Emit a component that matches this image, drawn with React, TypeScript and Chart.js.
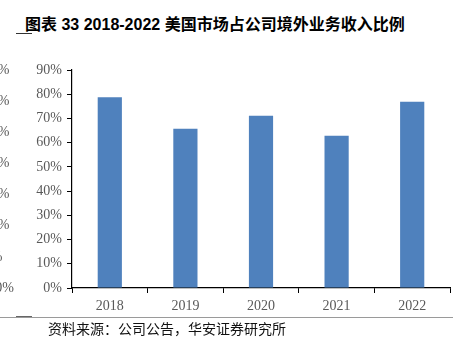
import React, { useEffect, useRef } from 'react';
import { Chart, registerables } from 'chart.js';

Chart.register(...registerables);

const categories: string[] = ['2018', '2019', '2020', '2021', '2022'];
const usShareOfOverseasRevenue: number[] = [78.8, 65.7, 71.1, 62.9, 76.9];
const yMin = 0;
const yMax = 90;
const yStep = 10;
const leftEdgeLabels: string[] = ['70%', '60%', '50%', '40%', '30%', '20%', '10%', '0%'];
const titleText = '图表 33 2018-2022 美国市场占公司境外业务收入比例';
const sourceText = '资料来源：公司公告，华安证券研究所';

const W = 453;
const H = 341;
// right edges of the clipped labels of the neighbouring chart (style only)
const leftEdgeRightX = [9.5, 9.5, 9.5, 9.5, 9.5, 9.5, 2.5, 14];

const leftEdgePlugin = {
  id: 'leftEdgeLabels',
  afterDraw(chart: any) {
    const { ctx, chartArea } = chart;
    const n = leftEdgeLabels.length;
    ctx.save();
    ctx.font = '14px "Liberation Serif", serif';
    ctx.fillStyle = '#595959';
    ctx.textAlign = 'right';
    ctx.textBaseline = 'middle';
    leftEdgeLabels.forEach((t, i) => {
      const y = chartArea.top + (i * (chartArea.bottom - chartArea.top)) / (n - 1);
      ctx.fillText(t, leftEdgeRightX[i], y);
    });
    ctx.restore();
  },
};

export default function App() {
  const ref = useRef<HTMLCanvasElement | null>(null);

  useEffect(() => {
    if (!ref.current) return;
    const tickFont = { family: '"Liberation Serif", "Times New Roman", serif', size: 14 };
    const chart = new Chart(ref.current, {
      type: 'bar',
      data: {
        labels: categories,
        datasets: [
          {
            data: usShareOfOverseasRevenue,
            backgroundColor: '#4F81BD',
            borderWidth: 0,
            categoryPercentage: 1,
            barPercentage: 0.32,
          },
        ],
      },
      options: {
        responsive: false,
        animation: false,
        devicePixelRatio: 1,
        layout: { padding: { top: 70, right: 3, bottom: 23, left: 0 } },
        plugins: { legend: { display: false }, tooltip: { enabled: false } },
        scales: {
          x: {
            type: 'category',
            grid: { offset: true, drawOnChartArea: false, drawTicks: true, tickLength: 5, color: '#000' },
            border: { display: true, color: '#000', width: 1.2 },
            ticks: { font: tickFont, color: '#595959', padding: 5, maxRotation: 0 },
            afterFit: (s: any) => {
              s.height = 30;
            },
          },
          y: {
            type: 'linear',
            min: yMin,
            max: yMax,
            grid: { drawOnChartArea: false, drawTicks: true, tickLength: 5, color: '#000' },
            border: { display: true, color: '#000', width: 1.2 },
            ticks: {
              stepSize: yStep,
              font: tickFont,
              color: '#595959',
              padding: 5,
              callback: (v: any) => `${v}%`,
            },
            afterFit: (s: any) => {
              s.width = 72;
            },
          },
        },
      },
      plugins: [leftEdgePlugin],
    });
    return () => chart.destroy();
  }, []);

  return (
    <div
      style={{
        position: 'fixed',
        left: 0,
        top: 0,
        width: W,
        height: H,
        background: '#fff',
        overflow: 'hidden',
      }}
    >
      <div
        style={{
          position: 'absolute',
          left: 25,
          top: 15,
          fontFamily: '"Liberation Sans", Arial, "Noto Sans CJK SC", sans-serif',
          fontWeight: 'bold',
          fontSize: 16,
          lineHeight: '20px',
          color: '#000',
          whiteSpace: 'nowrap',
        }}
      >
        {titleText}
      </div>
      <div style={{ position: 'absolute', left: 16, top: 33, width: 16, height: 1, background: '#333' }} />
      <canvas ref={ref} width={W} height={H} style={{ position: 'absolute', left: 0, top: 0 }} />
      <div style={{ position: 'absolute', left: 0, top: 317, width: W, height: 1, background: '#9a9a9a' }} />
      <div style={{ position: 'absolute', left: 16, top: 316, width: 16, height: 1, background: '#666' }} />
      <div
        style={{
          position: 'absolute',
          left: 48,
          top: 318,
          fontFamily: '"Noto Sans CJK SC", sans-serif',
          fontSize: 14,
          lineHeight: '20px',
          color: '#111',
          whiteSpace: 'nowrap',
        }}
      >
        {sourceText}
      </div>
    </div>
  );
}
